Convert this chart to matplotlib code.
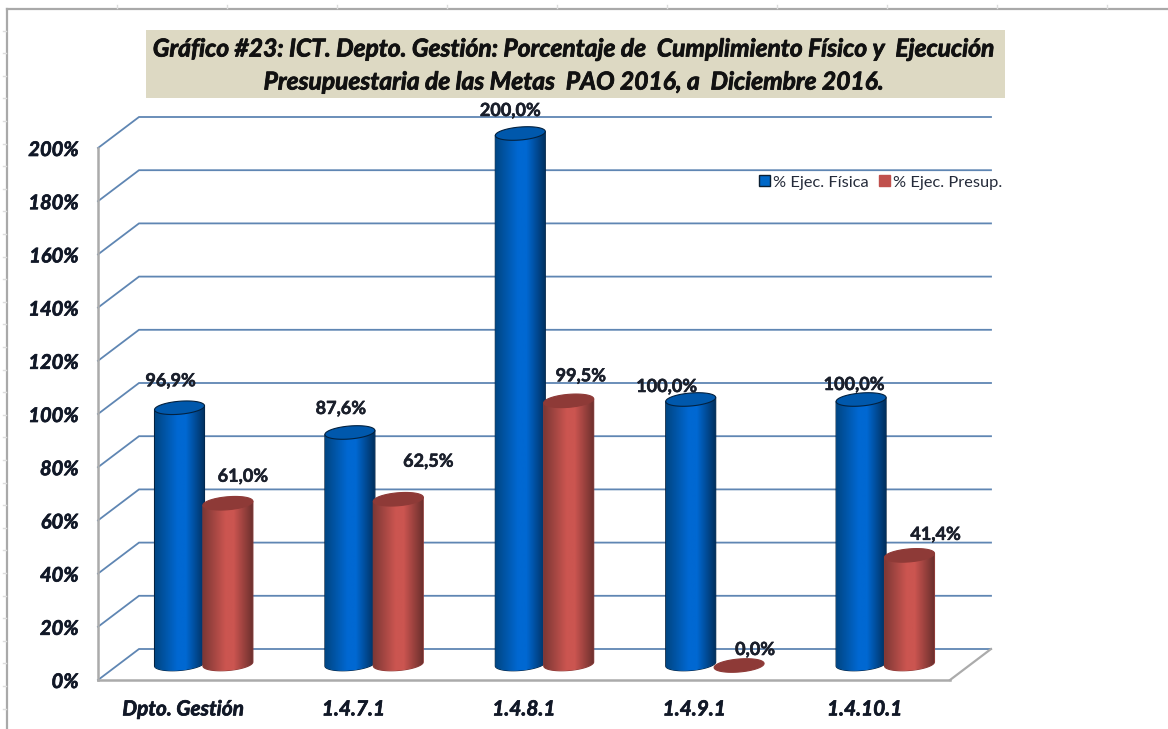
import numpy as np
import matplotlib
matplotlib.use("Agg")
import matplotlib.pyplot as plt
import matplotlib.patheffects as pe
from matplotlib.lines import Line2D
from matplotlib.patches import PathPatch, Patch, Polygon, Rectangle
from matplotlib.path import Path

categories = ["Dpto. Gestión", "1.4.7.1", "1.4.8.1", "1.4.9.1", "1.4.10.1"]
ejec_fisica = [96.9, 87.6, 200.0, 100.0, 100.0]
ejec_presup = [61.0, 62.5, 99.5, 0.0, 41.4]
y_ticks = list(range(0, 201, 20))

title_lines = [
    "Gráfico #23: ICT. Depto. Gestión: Porcentaje de  Cumplimiento Físico y  Ejecución",
    "Presupuestaria de las Metas  PAO 2016, a  Diciembre 2016.",
]

# label offsets from the top of each cylinder, in pixels
fisica_offsets = [(-9, 27), (-9, 24), (-10, 23), (-24, 13), (-7, 15)]
presup_offsets = [(15, 27), (30, 38), (12, 25), (16, 16), (26, 21)]

W, H = 1168, 729
plt.rcParams["font.family"] = ["Lato", "DejaVu Sans"]

fig = plt.figure(figsize=(W / 100, H / 100), dpi=100)

# front plane of the fake 3D box: x 98-950, y 148-680 px
ax = fig.add_axes([98 / W, 1 - 680 / H, 852 / W, 532 / H])
ax.set_xlim(-0.5, 4.5)
ax.set_ylim(0, 200)
ax.patch.set_alpha(0)

px_x = 5 / 852          # one pixel in x data units
px_y = 200 / 532        # one pixel in y data units
depth_x = 41 * px_x
depth_y = 31 * px_y

GRID = "#5F86B3"
FRAME = "#ABABAB"
INK = "#111827"
thick = [pe.withStroke(linewidth=0.5, foreground=INK)]

# walls and gridlines
for v in y_ticks:
    ax.plot([-0.5, -0.5 + depth_x, 4.5 + depth_x], [v, v + depth_y, v + depth_y],
            color=GRID, lw=1.3, clip_on=False, zorder=1, solid_joinstyle="miter")
ax.plot([4.5, 4.5 + depth_x], [0, depth_y], color=FRAME, lw=1.6, clip_on=False, zorder=1)

for side in ["top", "right"]:
    ax.spines[side].set_visible(False)
for side in ["left", "bottom"]:
    ax.spines[side].set_color(FRAME)
    ax.spines[side].set_linewidth(1.8)

ax.set_yticks(y_ticks)
ax.set_yticklabels([f"{v}%" for v in y_ticks], fontsize=14.5, fontweight="bold",
                   fontstyle="italic", color=INK, path_effects=thick)
ax.set_xticks(range(len(categories)))
ax.set_xticklabels(categories, fontsize=15, fontweight="bold", fontstyle="italic",
                   color=INK, path_effects=thick)
ax.tick_params(axis="both", length=0)
ax.tick_params(axis="y", pad=14)
ax.tick_params(axis="x", pad=14)

bar_w = 50 * px_x
ell_b = 6.5 * px_y      # half height of the end ellipse
ell_s = 2 * px_y        # tilt of the end ellipse
bar_off = 0.142
base_y = 16 * px_y
top_y = 14.5 * px_y


def shade(dark_l, mid, dark_r):
    t = np.linspace(0, 1, 64)
    stops = np.array([matplotlib.colors.to_rgb(c) for c in (dark_l, mid, mid, dark_r)])
    xp = [0, 0.45, 0.62, 1]
    return np.dstack([np.interp(t, xp, stops[:, k]) for k in range(3)])


blue_img = shade("#004684", "#0068D2", "#00305F")
red_img = shade("#7E3835", "#CB5550", "#6E302E")


def end_ellipse(xc, yc, t):
    return np.column_stack([xc + bar_w / 2 * np.cos(t),
                            yc + ell_b * np.sin(t) + ell_s * np.cos(t)])


def cylinder(xc, val, img, top_color, edge, z):
    top = val + top_y
    lower = end_ellipse(xc, base_y, np.linspace(0, -np.pi, 40))
    upper = end_ellipse(xc, top, np.array([np.pi, 0.0]))
    outline = np.vstack([lower, upper])
    if val > 0:
        ax.add_patch(Polygon(outline, closed=True, fc="none", ec=edge, lw=0.8,
                             clip_on=False, zorder=z))
        im = ax.imshow(img, extent=[xc - bar_w / 2, xc + bar_w / 2,
                                    base_y - ell_b - ell_s, top + ell_s],
                       aspect="auto", zorder=z, interpolation="bilinear")
        im.set_clip_path(PathPatch(Path(np.vstack([outline, outline[:1]])),
                                   transform=ax.transData))
        im.set_clip_box(fig.bbox)
    ring = end_ellipse(xc, top, np.linspace(0, 2 * np.pi, 60))
    ax.add_patch(Polygon(ring, closed=True, fc=top_color, ec=edge, lw=0.8,
                         clip_on=False, zorder=z + 0.1))
    return top


def bar_label(xc, val, top, offset):
    ax.annotate(f"{val:.1f}%".replace(".", ","), (xc, top), xytext=offset,
                textcoords="offset pixels", ha="center", va="center", fontsize=13,
                fontweight="bold", color="#1A1F2B", annotation_clip=False, zorder=20,
                path_effects=[pe.withStroke(linewidth=0.4, foreground="#1A1F2B")])


for i in range(len(categories)):
    xc = i + depth_x / 2
    top_b = cylinder(xc - bar_off, ejec_fisica[i], blue_img, "#0058AC", "#03213F", 3 + i)
    top_r = cylinder(xc + bar_off, ejec_presup[i], red_img, "#8E3A37", "#8E3A37", 3.5 + i)
    bar_label(xc - bar_off, ejec_fisica[i], top_b, fisica_offsets[i])
    bar_label(xc + bar_off, ejec_presup[i], top_r, presup_offsets[i])

ax.set_xlim(-0.5, 4.5)
ax.set_ylim(0, 200)

# title box
fig.add_artist(Rectangle((146 / W, 1 - 98 / H), 859 / W, 68 / H, fc="#DDD9C3", ec="none"))
for line, y in zip(title_lines, [49, 82]):
    fig.text(574 / W, 1 - y / H, line, ha="center", va="center", fontsize=17.7,
             fontweight="bold", fontstyle="italic", color="#111111",
             path_effects=[pe.withStroke(linewidth=0.6, foreground="#111111")])

handles = [Patch(fc="#0068C8", ec="#0B1F33", lw=1), Patch(fc="#C0504D", ec="#C0504D", lw=1)]
fig.legend(handles, ["% Ejec. Física", "% Ejec. Presup."], ncol=2, frameon=False,
           loc="center left", bbox_to_anchor=(759 / W, 1 - 182.5 / H), fontsize=11.8,
           labelcolor="#252B3A", handlelength=0.67, handleheight=0.67,
           handletextpad=0.2, columnspacing=0.6, borderpad=0, borderaxespad=0)

# worksheet frame behind the chart
fig.add_artist(Line2D([7 / W, 1], [1 - 9 / H, 1 - 9 / H], color="#A9A9A9", lw=1.6))
fig.add_artist(Line2D([7 / W, 7 / W], [0, 1 - 9 / H], color="#A9A9A9", lw=1.6))
for x in range(117, W, 110):
    fig.add_artist(Line2D([x / W, x / W], [1 - 8 / H, 1 - 5 / H], color="#DDDDDD", lw=1))
for k in range(1, 32):
    y = 8 + 22.6 * k
    fig.add_artist(Line2D([3 / W, 6 / W], [1 - y / H, 1 - y / H], color="#DDDDDD", lw=1))

fig.savefig("out.png", dpi=100)
